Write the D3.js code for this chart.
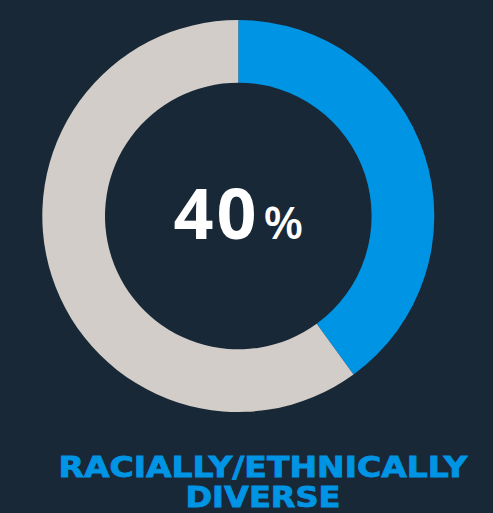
<!DOCTYPE html>
<meta charset="utf-8">
<html>
<head>
    <script src="https://d3js.org/d3.v7.js"></script>
    <style>
        body { margin: 0; background: #182836; }
    </style>
</head>
<body>
<script>
    // data
    var categories = ["Racially/ethnically diverse", "Other"];
    var values = [40, 60];
    var colors = ["#0094e4", "#d2cdc8"];
    var centerLabel = "40";
    var titleLines = ["RACIALLY/ETHNICALLY", "DIVERSE"];

    let width = 493, height = 513
    var svg = d3.select("body").append("svg")
        .attr("width", width)
        .attr("height", height)
        .style("background", "#182836");

    var cx = 238.3, cy = 216;
    var outerR = 196, innerR = 133.3;

    var pie = d3.pie().sort(null).value(function(d) { return d; });
    var arc = d3.arc().innerRadius(innerR).outerRadius(outerR);

    var g = svg.append("g")
        .attr("transform", `translate(${cx},${cy})`);

    g.selectAll("path")
        .data(pie(values))
        .join("path")
        .attr("d", arc)
        .attr("fill", function(d, i) { return colors[i]; });

    // center number
    var label = g.append("text")
        .attr("y", 23)
        .attr("text-anchor", "middle")
        .style("font-family", "'Open Sans', sans-serif")
        .style("font-weight", "bold")
        .style("fill", "#ffffff");

    label.append("tspan")
        .style("font-size", "70px")
        .style("letter-spacing", "3px")
        .text(centerLabel);

    label.append("tspan")
        .attr("dx", 4)
        .style("font-size", "46px")
        .style("font-weight", "600")
        .text("%");

    // title
    svg.selectAll(".title")
        .data(titleLines)
        .join("text")
        .attr("class", "title")
        .attr("x", 263)
        .attr("y", function(d, i) { return 477 + i * 30; })
        .attr("text-anchor", "middle")
        .attr("textLength", function(d, i) { return i == 0 ? 409 : 155; })
        .attr("lengthAdjust", "spacingAndGlyphs")
        .style("font-family", "'DejaVu Sans', sans-serif")
        .style("font-weight", "bold")
        .style("font-size", "28px")
        .style("fill", "#0094e4")
        .style("stroke", "#0094e4")
        .style("stroke-width", "0.8px")
        .text(function(d) { return d; });
</script>
</body>
</html>
